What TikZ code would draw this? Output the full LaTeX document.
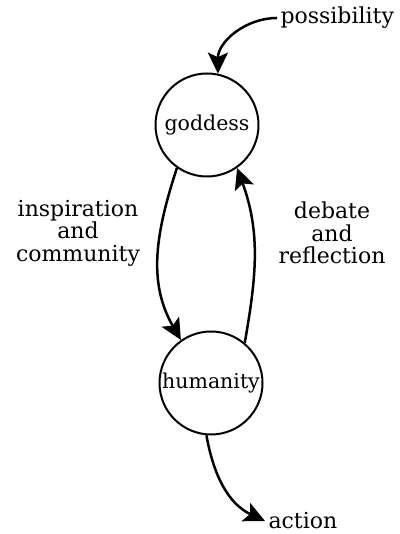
\documentclass[tikz,border=0pt]{standalone}
\usepackage{fontspec}
\setmainfont{DejaVu Serif}
\usetikzlibrary{arrows.meta}

\begin{document}
\begin{tikzpicture}[x=1pt,y=1pt,
  state/.style={circle,draw,line width=2pt,minimum size=103pt,inner sep=0pt,
    font=\fontsize{20.5}{22}\selectfont},
  word/.style={align=center,font=\fontsize{22}{22.5}\selectfont},
  flow/.style={line width=2.5pt,-{Stealth[length=21pt,width=20pt,inset=4.5pt]}}]
  \useasboundingbox (0,0) rectangle (399,534);

  % the two circles
  \node[state] (goddess) at (207,409) {goddess};
  \node[state] (humanity) at (211,151) {humanity};

  % words outside the circles
  \node[word,anchor=west] (possibility) at (277,516) {possibility};
  \node[word,anchor=west] (action) at (265,13) {action};
  \node[word] (inspire) at (78,301) {inspiration\\and\\community};
  \node[word] (debate) at (332,301) {debate\\and\\reflection};

  % arrows
  \draw[flow] (possibility.west) to[out=180,in=90] (goddess.78);
  \draw[flow] (goddess.235) to[out=252,in=120] (humanity.125);
  \draw[flow] (humanity.50) to[out=80,in=290] (goddess.305);
  \draw[flow] (humanity.265) to[out=280,in=155] (action.west);
\end{tikzpicture}
\end{document}
